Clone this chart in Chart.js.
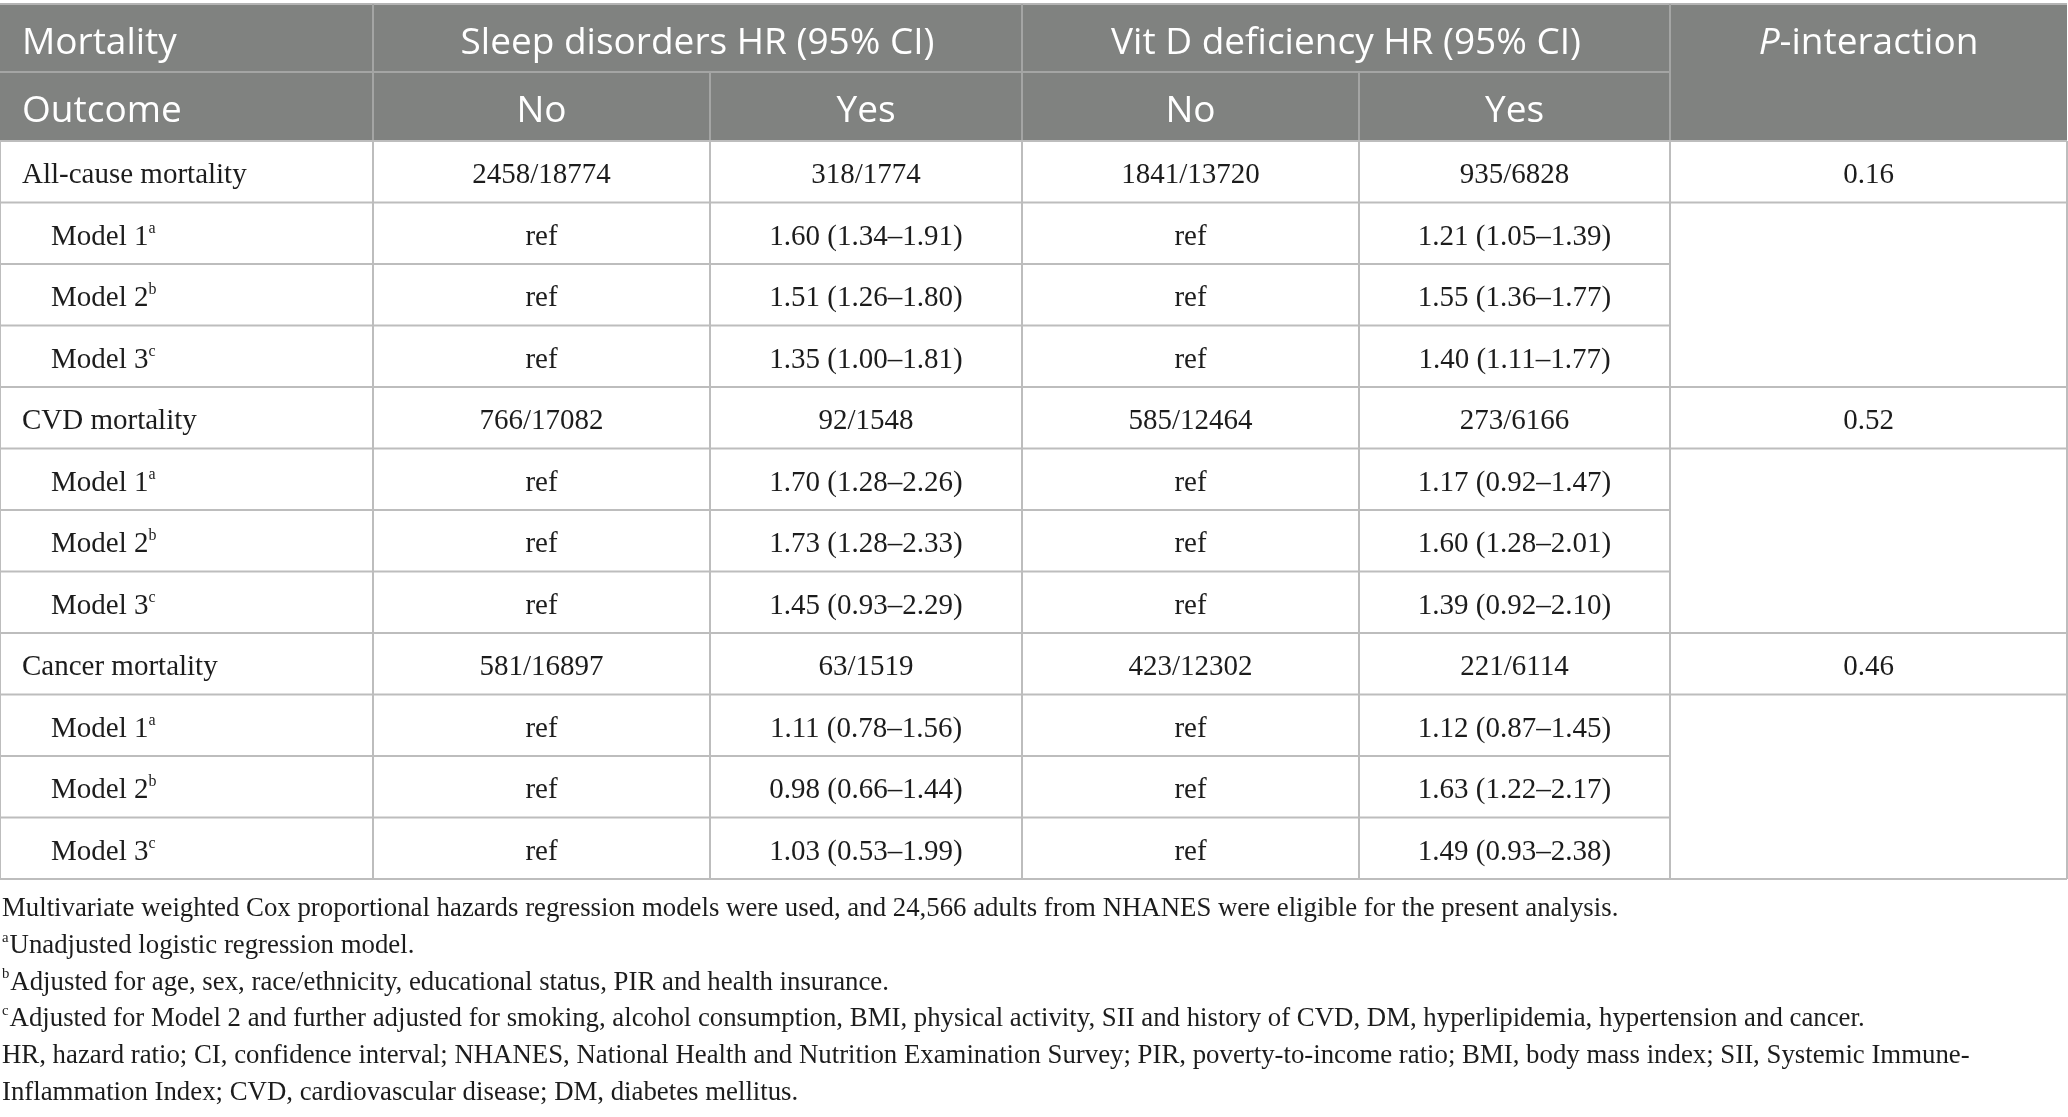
<!DOCTYPE html>
<html lang="en">
<head>
<meta charset="UTF-8">
<title>Sleep disorders, vitamin D deficiency and mortality</title>
<script src="https://cdn.jsdelivr.net/npm/chart.js"></script>
<style>
  html, body { margin: 0; padding: 0; background: #fff; }
  #table { display: block; }
</style>
</head>
<body>
<canvas id="table" width="2068" height="1117"></canvas>
<script>
// ---- table content ----
const headTop = ['Mortality', 'Sleep disorders HR (95% CI)', 'Vit D deficiency HR (95% CI)', 'P', '-interaction'];
const headSub = ['Outcome', 'No', 'Yes', 'No', 'Yes'];
const outcomes = ['All-cause mortality', 'CVD mortality', 'Cancer mortality'];
const models = ['Model 1', 'Model 2', 'Model 3'];
const modelNotes = ['a', 'b', 'c'];
const refLabel = 'ref';

// deaths / participants
const sleepNoEvents = ['2458/18774', '766/17082', '581/16897'];
const sleepYesEvents = ['318/1774', '92/1548', '63/1519'];
const vitdNoEvents = ['1841/13720', '585/12464', '423/12302'];
const vitdYesEvents = ['935/6828', '273/6166', '221/6114'];
const pInteraction = [0.16, 0.52, 0.46];

// hazard ratios, rows = outcome, cols = model 1..3
const sleepHR = [[1.60, 1.51, 1.35], [1.70, 1.73, 1.45], [1.11, 0.98, 1.03]];
const sleepLo = [[1.34, 1.26, 1.00], [1.28, 1.28, 0.93], [0.78, 0.66, 0.53]];
const sleepHi = [[1.91, 1.80, 1.81], [2.26, 2.33, 2.29], [1.56, 1.44, 1.99]];
const vitdHR = [[1.21, 1.55, 1.40], [1.17, 1.60, 1.39], [1.12, 1.63, 1.49]];
const vitdLo = [[1.05, 1.36, 1.11], [0.92, 1.28, 0.92], [0.87, 1.22, 0.93]];
const vitdHi = [[1.39, 1.77, 1.77], [1.47, 2.01, 2.10], [1.45, 2.17, 2.38]];

// footnotes: superscript mark + text
const noteMarks = ['', 'a', 'b', 'c', '', ''];
const noteLines = [
  'Multivariate weighted Cox proportional hazards regression models were used, and 24,566 adults from NHANES were eligible for the present analysis.',
  'Unadjusted logistic regression model.',
  'Adjusted for age, sex, race/ethnicity, educational status, PIR and health insurance.',
  'Adjusted for Model 2 and further adjusted for smoking, alcohol consumption, BMI, physical activity, SII and history of CVD, DM, hyperlipidemia, hypertension and cancer.',
  'HR, hazard ratio; CI, confidence interval; NHANES, National Health and Nutrition Examination Survey; PIR, poverty-to-income ratio; BMI, body mass index; SII, Systemic Immune-',
  'Inflammation Index; CVD, cardiovascular disease; DM, diabetes mellitus.'
];

// ---- layout (table units = canvas px) ----
const W = 2068, H = 1117;
const colEdges = [0, 373, 710, 1022, 1359, 1670, 2067];
const tableTop = 4, headSplit = 72, headBottom = 141, rowH = 61.5;
const nRows = outcomes.length * (models.length + 1);
const tableBottom = headBottom + nRows * rowH;
const padGroup = 22, padModel = 51;
const noteBase = 916, noteGap = 36.8;

const colMid = (a, b) => (colEdges[a] + colEdges[b]) / 2;
const rowMid = r => headBottom + (r + 0.5) * rowH;
const fmtHR = (h, l, u) => `${h.toFixed(2)} (${l.toFixed(2)}\u2013${u.toFixed(2)})`;

// header cells
const headCells = [
  { x: padGroup, y: (tableTop + headSplit) / 2, align: 'left', runs: [{ t: headTop[0] }] },
  { x: colMid(1, 3), y: (tableTop + headSplit) / 2, runs: [{ t: headTop[1] }] },
  { x: colMid(3, 5), y: (tableTop + headSplit) / 2, runs: [{ t: headTop[2] }] },
  { x: colMid(5, 6), y: (tableTop + headSplit) / 2, runs: [{ t: headTop[3], it: true }, { t: headTop[4] }] },
  { x: padGroup, y: (headSplit + headBottom) / 2, align: 'left', runs: [{ t: headSub[0] }] }
];
for (let c = 1; c < headSub.length; c++) {
  headCells.push({ x: colMid(c, c + 1), y: (headSplit + headBottom) / 2, runs: [{ t: headSub[c] }] });
}

// body cells
const bodyCells = [];
outcomes.forEach((name, g) => {
  const r = g * (models.length + 1);
  const y = rowMid(r);
  bodyCells.push({ x: padGroup, y, align: 'left', runs: [{ t: name }] });
  [sleepNoEvents, sleepYesEvents, vitdNoEvents, vitdYesEvents].forEach((arr, k) => {
    bodyCells.push({ x: colMid(k + 1, k + 2), y, runs: [{ t: arr[g] }] });
  });
  bodyCells.push({ x: colMid(5, 6), y, runs: [{ t: pInteraction[g].toFixed(2) }] });
  models.forEach((m, j) => {
    const ym = rowMid(r + 1 + j);
    bodyCells.push({ x: padModel, y: ym, align: 'left', runs: [{ t: m }, { t: modelNotes[j], sup: true }] });
    bodyCells.push({ x: colMid(1, 2), y: ym, runs: [{ t: refLabel }] });
    bodyCells.push({ x: colMid(2, 3), y: ym, runs: [{ t: fmtHR(sleepHR[g][j], sleepLo[g][j], sleepHi[g][j]) }] });
    bodyCells.push({ x: colMid(3, 4), y: ym, runs: [{ t: refLabel }] });
    bodyCells.push({ x: colMid(4, 5), y: ym, runs: [{ t: fmtHR(vitdHR[g][j], vitdLo[g][j], vitdHi[g][j]) }] });
  });
});

// footnotes
const noteCells = noteLines.map((t, i) => ({
  x: 2, y: noteBase + i * noteGap, align: 'left',
  runs: noteMarks[i] ? [{ t: noteMarks[i], sup: true }, { t }] : [{ t }]
}));

// ---- drawing helpers ----
function drawRuns(ctx, x, y, runs, align, st) {
  const fontFor = run => {
    const size = run.sup ? st.size * 0.55 : st.size;
    return `${run.it ? 'italic ' : ''}${size}px ${st.family}`;
  };
  const widths = runs.map(run => { ctx.font = fontFor(run); return ctx.measureText(run.t).width + (run.sup ? 1 : 0); });
  const total = widths.reduce((a, b) => a + b, 0);
  let cx = align === 'left' ? x : x - total / 2;
  ctx.fillStyle = st.color;
  ctx.textAlign = 'left';
  ctx.textBaseline = st.baseline;
  runs.forEach((run, i) => {
    ctx.font = fontFor(run);
    const dy = st.shift + (run.sup ? -st.size * st.supRise : 0);
    ctx.fillText(run.t, cx, y + dy);
    cx += widths[i];
  });
}

const tablePlugin = {
  id: 'tablePlugin',
  beforeDatasetsDraw(chart) {
    const { ctx, scales: { x, y } } = chart;
    const px = v => x.getPixelForValue(v), py = v => y.getPixelForValue(v);
    const line = (x0, y0, x1, y1, color) => {
      ctx.strokeStyle = color;
      ctx.lineWidth = 2;
      ctx.beginPath();
      ctx.moveTo(px(x0), py(y0));
      ctx.lineTo(px(x1), py(y1));
      ctx.stroke();
    };
    ctx.save();
    // header block
    ctx.fillStyle = '#808280';
    ctx.fillRect(px(colEdges[0]), py(tableTop), px(colEdges[6]) - px(colEdges[0]), py(headBottom) - py(tableTop));
    const headLine = '#a4a5a4';
    line(colEdges[0], tableTop, colEdges[6], tableTop, '#b4b4b4');
    line(colEdges[0], headSplit, colEdges[5], headSplit, headLine);
    [1, 3, 5].forEach(c => line(colEdges[c], tableTop, colEdges[c], headBottom, headLine));
    [2, 4].forEach(c => line(colEdges[c], headSplit, colEdges[c], headBottom, headLine));
    // body grid; the P-interaction column is merged over each block of model rows
    const gridLine = '#bdbdbd';
    for (let r = 0; r <= nRows; r++) {
      const yy = headBottom + r * rowH;
      line(colEdges[0], yy, colEdges[5], yy, gridLine);
      const groupEdge = r % (models.length + 1) <= 1 || r === nRows;
      if (groupEdge) line(colEdges[5], yy, colEdges[6], yy, gridLine);
    }
    colEdges.forEach(cx => line(cx, headBottom, cx, tableBottom, gridLine));
    ctx.restore();
  },
  afterDatasetsDraw(chart) {
    const { ctx } = chart;
    ctx.save();
    chart.data.datasets.forEach((ds, i) => {
      const meta = chart.getDatasetMeta(i);
      meta.data.forEach((pt, j) => {
        const cell = ds.data[j];
        drawRuns(ctx, pt.x, pt.y, cell.runs, cell.align || 'center', ds.textStyle);
      });
    });
    ctx.restore();
  }
};

const cellSet = (label, data, textStyle) => ({
  label, data, textStyle, pointRadius: 0, pointHoverRadius: 0, showLine: false
});

new Chart(document.getElementById('table'), {
  type: 'scatter',
  data: {
    datasets: [
      cellSet('header', headCells, { family: '"Open Sans", "Noto Sans", sans-serif', size: 37, color: '#ffffff', baseline: 'middle', shift: 5, supRise: 0.3 }),
      cellSet('body', bodyCells, { family: '"Liberation Serif", "DejaVu Serif", serif', size: 29, color: '#1c1c1c', baseline: 'middle', shift: 4, supRise: 0.3 }),
      cellSet('notes', noteCells, { family: '"Liberation Serif", "DejaVu Serif", serif', size: 26.8, color: '#1c1c1c', baseline: 'alphabetic', shift: 0, supRise: 0.42 })
    ]
  },
  options: {
    responsive: false,
    animation: false,
    devicePixelRatio: 1,
    layout: { padding: 0 },
    events: [],
    plugins: { legend: { display: false }, tooltip: { enabled: false } },
    scales: {
      x: { type: 'linear', min: 0, max: W, display: false },
      y: { type: 'linear', min: 0, max: H, reverse: true, display: false }
    }
  },
  plugins: [tablePlugin]
});
</script>
</body>
</html>
